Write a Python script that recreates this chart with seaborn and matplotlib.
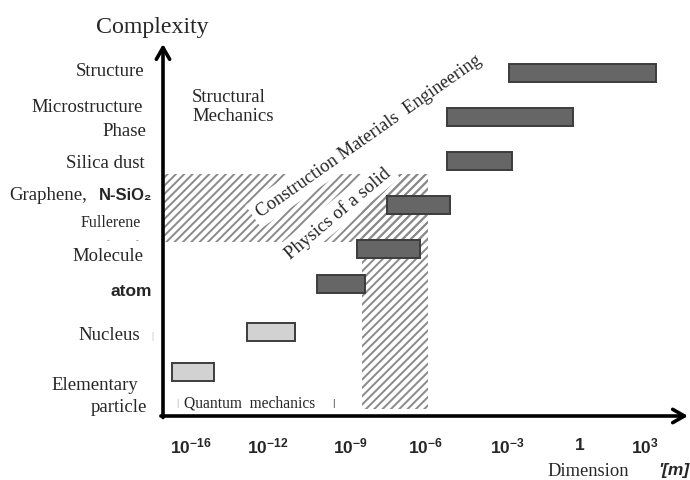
import numpy as np
import pandas as pd
import seaborn as sns
import matplotlib.pyplot as plt

sns.set_theme(style="white")
plt.rcParams['font.family'] = ['Liberation Serif', 'DejaVu Serif']
plt.rcParams['mathtext.fontset'] = 'custom'
plt.rcParams['mathtext.rm'] = 'Liberation Sans'
plt.rcParams['mathtext.bf'] = 'Liberation Sans:bold'
plt.rcParams['mathtext.it'] = 'Liberation Sans:italic'
plt.rcParams['hatch.linewidth'] = 1.4

# ---- data: size range of each object, log10 of metres ----
items = ['Elementary particle', 'Nucleus', 'atom', 'Molecule',
         'N-SiO2', 'Silica dust', 'Microstructure', 'Structure']
log_lo = [-17.0, -13.1, -10.2, -8.7, -7.5, -5.2, -5.2, -2.9]
log_hi = [-14.8, -11.0, -8.4, -6.2, -5.1, -2.8, -0.3, 3.5]
level = [1.0, 1.9, 3.0, 3.8, 4.8, 5.8, 6.8, 7.8]
kind = ['light', 'light', 'dark', 'dark', 'dark', 'dark', 'dark', 'dark']

# hatched domains
solid_x = [-8.5, -5.9]      # physics of a solid (vertical band)
solid_y = [0.15, 5.5]
nano_x = [-17.45, -5.9]     # nano band (horizontal)
nano_y = [3.95, 5.5]

tick_exp = [-16, -12, -9, -6, -3, 0, 3]
tick_lab = [r'$\mathbf{10^{-16}}$', r'$\mathbf{10^{-12}}$', r'$\mathbf{10^{-9}}$',
            r'$\mathbf{10^{-6}}$', r'$\mathbf{10^{-3}}$', r'$\mathbf{1}$',
            r'$\mathbf{10^{3}}$']

df = pd.DataFrame({'item': items, 'lo': log_lo, 'hi': log_hi,
                   'level': level, 'kind': kind})

# the drawing is not strictly logarithmic: piecewise scale through the ticks
knot_exp = [-20, -16, -12, -9, -6, -3, 0, 3, 6]
knot_pos = [114, 191, 268, 350, 425, 507, 580, 645, 710]

def fwd(e):
    return np.interp(e, knot_exp, knot_pos)

def inv(p):
    return np.interp(p, knot_pos, knot_exp)

W, H = 690, 481
fig = plt.figure(figsize=(W / 100, H / 100), dpi=100)
ax = fig.add_axes([163 / W, (H - 417) / H, 525 / W, 372 / H])
ax.set_xscale('function', functions=(fwd, inv))
ax.set_xlim(-17.45, 4.98)
ax.set_ylim(0, 8.4545)

# hatched areas
ax.fill_between(nano_x, nano_y[0], nano_y[1], facecolor='none',
                edgecolor='#8a8a8a', hatch='////', linewidth=0, zorder=1)
ax.fill_between(solid_x, solid_y[0], solid_y[1], facecolor='none',
                edgecolor='#8a8a8a', hatch='////', linewidth=0, zorder=1)

# bars
colors = {'dark': '#666666', 'light': '#d2d2d2'}
for _, r in df.iterrows():
    ax.barh(r['level'], r['hi'] - r['lo'], left=r['lo'], height=0.41,
            color=colors[r['kind']], edgecolor='#3c3c3c', linewidth=1.4, zorder=4)

# axes as arrows
for s in ax.spines.values():
    s.set_visible(False)
ax.set_yticks([])
ax.set_xticks(tick_exp)
ax.set_xticklabels(tick_lab, fontsize=12.5)
ax.tick_params(axis='x', length=0, pad=15)
ax.annotate('', xy=(1.0, 0), xytext=(-0.004, 0), xycoords='axes fraction',
            arrowprops=dict(arrowstyle='->,head_length=0.7,head_width=0.4',
                            lw=2.6, color='black', shrinkA=0, shrinkB=0))
ax.annotate('', xy=(0, 1.0), xytext=(0, -0.004), xycoords='axes fraction',
            arrowprops=dict(arrowstyle='->,head_length=0.7,head_width=0.4',
                            lw=2.6, color='black', shrinkA=0, shrinkB=0))

# rotated domain labels
ax.text(0.392, 0.753, 'Construction Materials  Engineering', transform=ax.transAxes,
        rotation=35, rotation_mode='anchor', ha='center', va='center',
        fontsize=13.3, zorder=3,
        bbox=dict(facecolor='white', edgecolor='none', pad=4))
ax.text(0.333, 0.546, 'Physics of a solid', transform=ax.transAxes,
        rotation=40, rotation_mode='anchor', ha='center', va='center',
        fontsize=13.5, zorder=3,
        bbox=dict(facecolor='white', edgecolor='none', pad=3))


def px(x, y):
    return x / W, 1 - y / H


serif = 'Liberation Serif'
sans = ['Liberation Sans', 'DejaVu Sans']

fig.text(*px(152, 27), 'Complexity', fontsize=17.2, ha='center', va='center', family=serif)

left_labels = [
    ('Structure', 144, 72, 13.5),
    ('Microstructure', 143, 107, 13.5),
    ('Phase', 146, 132, 13.5),
    ('Silica dust', 145, 164, 13.5),
    ('Graphene,', 87, 195, 13.5),
    ('Fullerene', 141, 223, 11.5),
    ('Molecule', 143, 257, 13.5),
    ('Nucleus', 140, 336, 13.5),
    ('Elementary', 138, 386, 13.5),
    ('particle', 147, 408, 13.5),
]
for txt, x, y, fs in left_labels:
    fig.text(*px(x, y), txt, fontsize=fs, ha='right', va='center', family=serif)

fig.text(*px(152, 195), 'N-SiO₂', fontsize=12, ha='right', va='center',
         family=sans, fontweight='bold')
fig.text(*px(152, 292), 'atom', fontsize=12.5, ha='right', va='center',
         family=sans, fontweight='bold')
fig.text(*px(108, 241), '-', fontsize=6, ha='center', va='center', color='#777777')
fig.text(*px(137, 241), '-', fontsize=6, ha='center', va='center', color='#777777')
fig.text(*px(152, 337), '|', fontsize=7, ha='center', va='center', color='#aaaaaa')

fig.text(*px(192, 107), 'Structural\nMechanics', fontsize=13.5, ha='left', va='center',
         family=serif, linespacing=1.1)

fig.text(*px(250, 404), 'Quantum  mechanics', fontsize=11.2, ha='center', va='center',
         family=serif)
fig.text(*px(177, 404), '|', fontsize=8, ha='center', va='center', color='#999999')
fig.text(*px(333, 404), '|', fontsize=8, ha='center', va='center', color='#333333',
         fontweight='bold')

fig.text(*px(588, 472), 'Dimension', fontsize=13.3, ha='center', va='center', family=serif)
fig.text(*px(689, 471), "'[m]", fontsize=12.5, ha='right', va='center', family=sans,
         fontweight='bold', fontstyle='italic')

fig.savefig('out.png', dpi=100, facecolor='white')
